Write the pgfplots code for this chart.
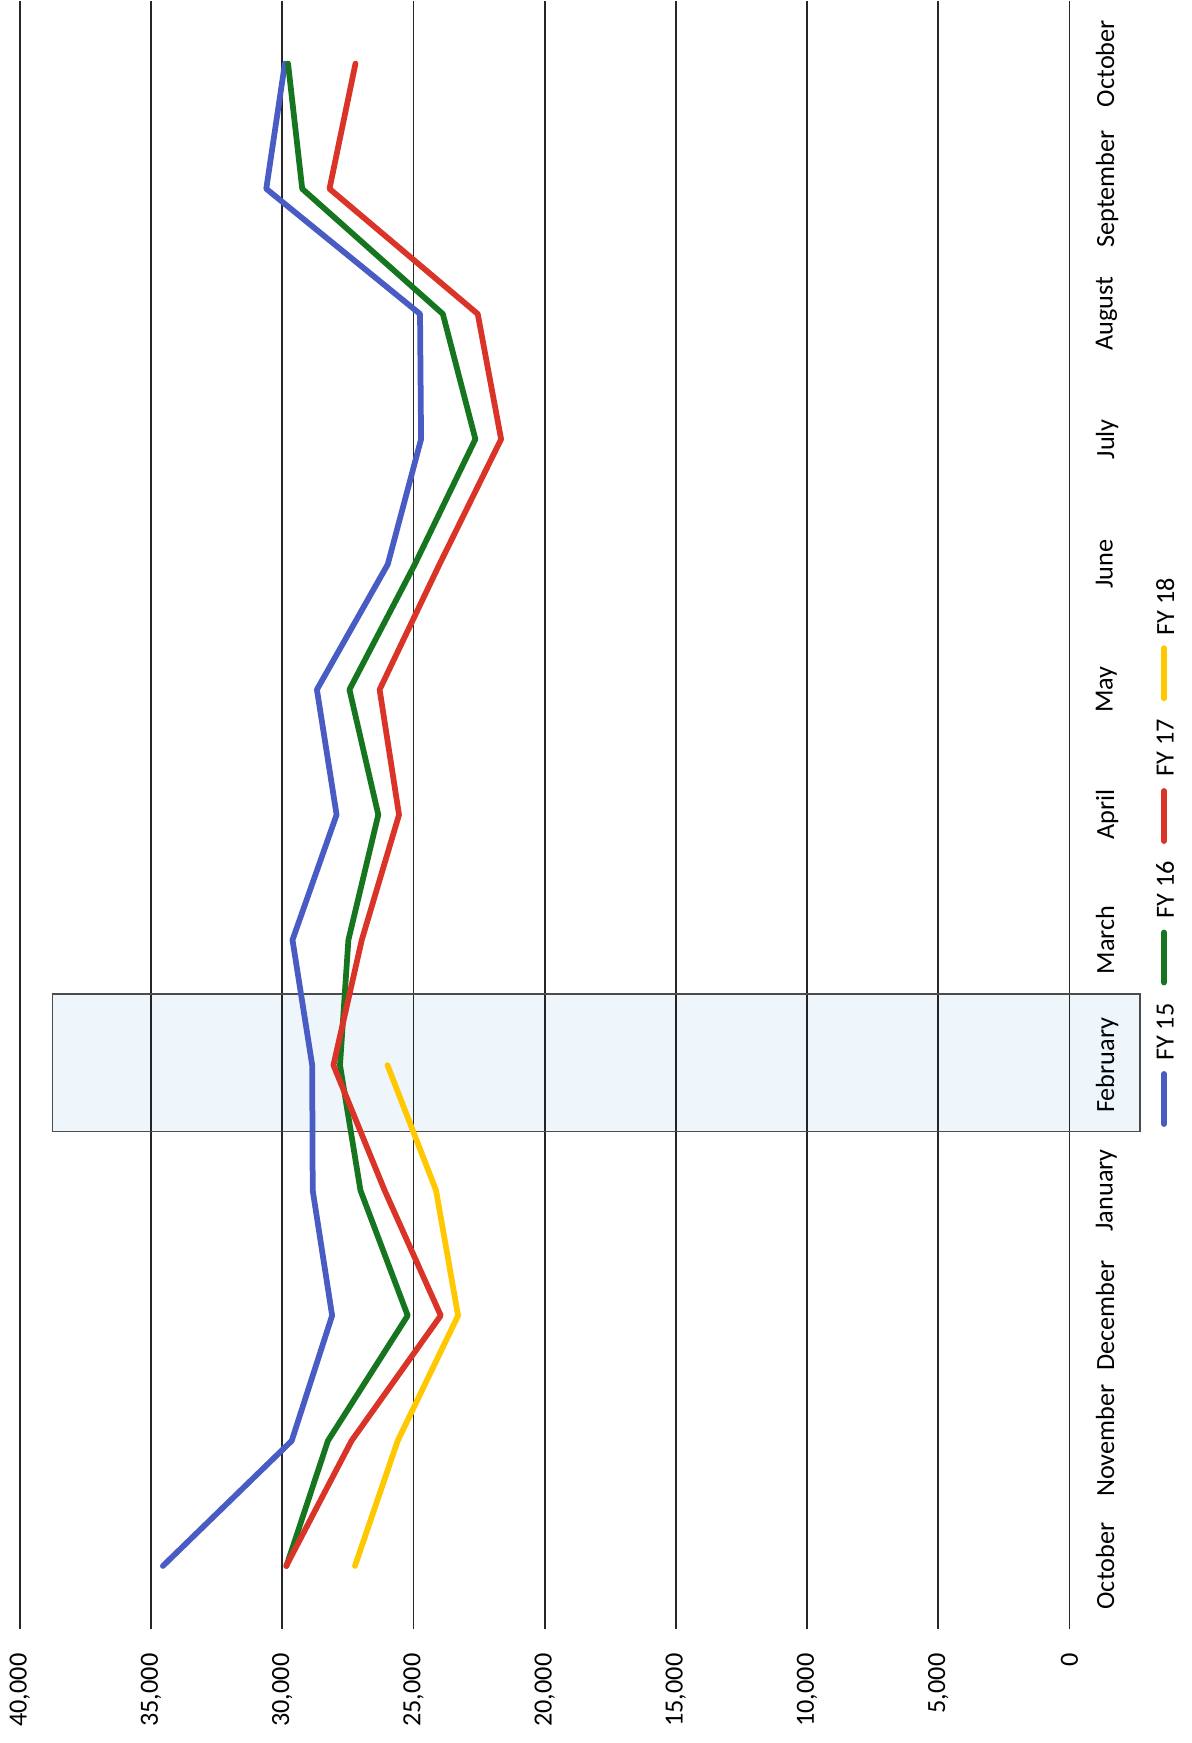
\documentclass[border=0pt]{standalone}
\usepackage{pgfplots}
\pgfplotsset{compat=1.18}
\usepackage{fontspec}
\setmainfont{Carlito}
\definecolor{fyblue}{RGB}{72,92,196}
\definecolor{fygreen}{RGB}{22,118,32}
\definecolor{fyred}{RGB}{218,52,40}
\definecolor{fyyellow}{RGB}{255,200,0}
\definecolor{boxfill}{RGB}{238,245,251}
\begin{document}
\begin{tikzpicture}
\begin{axis}[
  scale only axis, width=419.84pt, height=651.04pt,
  xmin=0, xmax=40000, x dir=reverse,
  ymin=-0.5, ymax=12.5,
  xtick={0,5000,...,40000},
  ytick={0,...,12},
  yticklabels={October,November,December,January,February,March,April,May,June,July,August,September,October},
  axis line style={draw=none},
  tick style={draw=none},
  major tick length=0pt,
  xmajorgrids, grid style={black!85, line width=0.7pt},
  scaled x ticks=false,
  /pgf/number format/fixed,
  /pgf/number format/1000 sep={,},
  /pgf/number format/assume math mode=true,
  xticklabel style={rotate=90, anchor=east},
  xticklabel shift=6.5pt,
  yticklabel pos=right,
  yticklabel style={rotate=90, anchor=north},
  yticklabel shift=7pt,
  tick label style={font=\fontsize{10.5}{12}\selectfont},
  clip=false,
  every axis plot/.append style={line width=2.3pt, line join=round, line cap=round},
]
% highlight box around February
\fill[boxfill, blend mode=multiply] (axis cs:38750,3.47) rectangle (axis cs:-2694,4.57);
\draw[black!70, line width=0.6pt] (axis cs:38750,3.47) rectangle (axis cs:-2694,4.57);

\addplot[fyblue] coordinates {(34550,0) (29640,1) (28100,2) (28840,3) (28860,4) (29610,5) (27930,6) (28680,7) (25980,8) (24710,9) (24750,10) (30610,11) (29900,12)};
\addplot[fygreen] coordinates {(29840,0) (28260,1) (25220,2) (27020,3) (27800,4) (27480,5) (26340,6) (27440,7) (24950,8) (22640,9) (23880,10) (29240,11) (29780,12)};
\addplot[fyred] coordinates {(29850,0) (27360,1) (23960,2) (26100,3) (28050,4) (26970,5) (25550,6) (26290,7) (24010,8) (21660,9) (22550,10) (28200,11) (27210,12)};
\addplot[fyyellow] coordinates {(27230,0) (25600,1) (23300,2) (24140,3) (25990,4)};

% legend
\draw[fyblue, line width=2.3pt, line cap=round] (axis cs:-3600,3.53) -- (axis cs:-3600,3.93);
\node[rotate=90, anchor=west, inner sep=0pt, font=\fontsize{10.5}{12}\selectfont] at (axis cs:-3650,4.03) {FY 15};
\draw[fygreen, line width=2.3pt, line cap=round] (axis cs:-3600,4.66) -- (axis cs:-3600,5.06);
\node[rotate=90, anchor=west, inner sep=0pt, font=\fontsize{10.5}{12}\selectfont] at (axis cs:-3650,5.17) {FY 16};
\draw[fyred, line width=2.3pt, line cap=round] (axis cs:-3600,5.79) -- (axis cs:-3600,6.19);
\node[rotate=90, anchor=west, inner sep=0pt, font=\fontsize{10.5}{12}\selectfont] at (axis cs:-3650,6.30) {FY 17};
\draw[fyyellow, line width=2.3pt, line cap=round] (axis cs:-3600,6.93) -- (axis cs:-3600,7.33);
\node[rotate=90, anchor=west, inner sep=0pt, font=\fontsize{10.5}{12}\selectfont] at (axis cs:-3650,7.43) {FY 18};

\coordinate (BL) at (axis cs:40758,-1.414);
\coordinate (TR) at (axis cs:-4638,12.508);
\end{axis}
\pgfresetboundingbox
\path (BL) rectangle (TR);
\end{tikzpicture}
\end{document}
